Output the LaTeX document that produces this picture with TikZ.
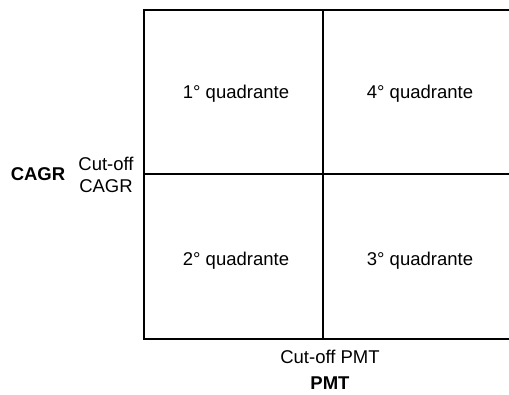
\documentclass[tikz,border=0pt]{standalone}
\usepackage{fontspec}
\setmainfont{Liberation Sans}
\begin{document}
\begin{tikzpicture}[x=1pt,y=-1pt,
    grid/.style={line width=2pt,line cap=rect},
    lbl/.style={inner sep=0pt,anchor=base,font=\fontsize{18.5}{22}\selectfont},
    axis/.style={lbl,font=\fontsize{18.5}{22}\selectfont\bfseries}]
  \useasboundingbox (0,0) rectangle (509,395);
  % grid corners and cut-off lines
  \coordinate (tl) at (144,10);
  \coordinate (tr) at (512,10);
  \coordinate (bl) at (144,339);
  \coordinate (br) at (512,339);
  \coordinate (vt) at (323,10);
  \coordinate (vb) at (323,339);
  \coordinate (hl) at (144,174);
  \coordinate (hr) at (512,174);
  \draw[grid] (tr) -- (tl) -- (bl) -- (br);
  \draw[grid] (vt) -- (vb);
  \draw[grid] (hl) -- (hr);
  % quadrant labels
  \node[lbl] (q1) at (236,99) {1° quadrante};
  \node[lbl] (q4) at (420,99) {4° quadrante};
  \node[lbl] (q2) at (236,266) {2° quadrante};
  \node[lbl] (q3) at (420,266) {3° quadrante};
  % axis labels
  \node[axis] (cagr) at (38,181) {CAGR};
  \node[lbl,align=center,anchor=base] (cutcagr) at (106,193) {Cut-off\\CAGR};
  \node[lbl] (cutpmt) at (330,363) {Cut-off PMT};
  \node[axis] (pmt) at (330,390) {PMT};
\end{tikzpicture}
\end{document}
